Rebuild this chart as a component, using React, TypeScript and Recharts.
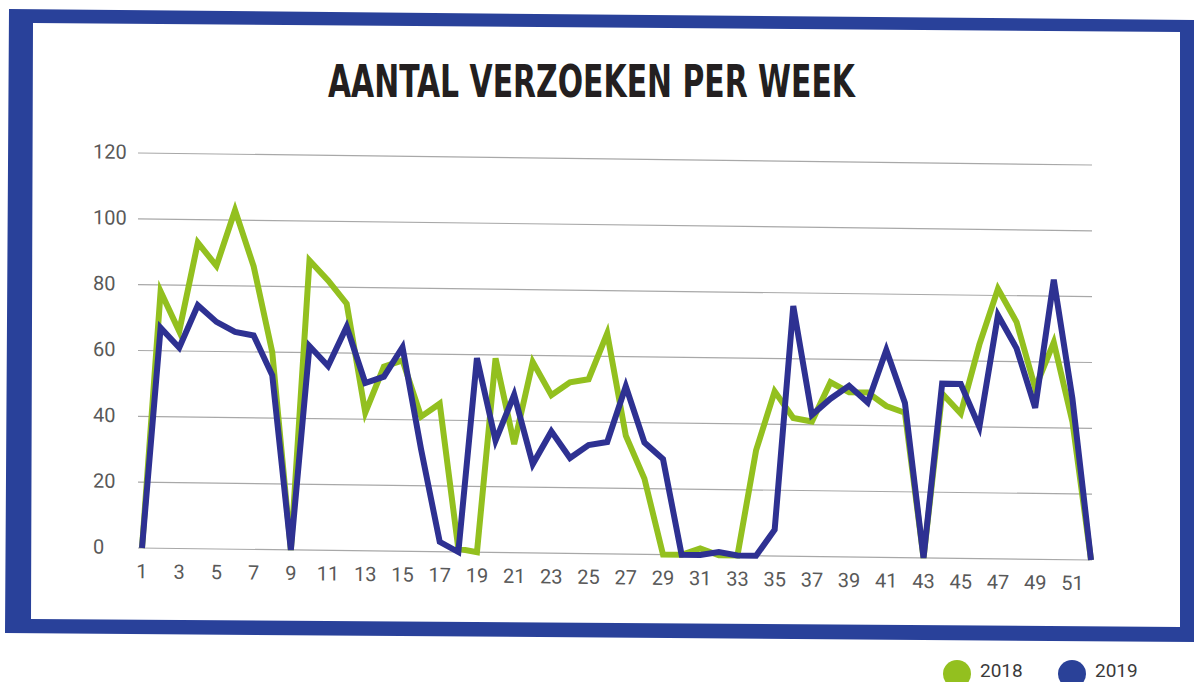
import React from 'react';
import { LineChart, Line, XAxis, YAxis, CartesianGrid } from 'recharts';

const weeks = [
  1, 2, 3, 4, 5, 6, 7, 8, 9, 10, 11, 12, 13, 14, 15, 16, 17, 18, 19, 20, 21, 22, 23, 24, 25, 26,
  27, 28, 29, 30, 31, 32, 33, 34, 35, 36, 37, 38, 39, 40, 41, 42, 43, 44, 45, 46, 47, 48, 49, 50, 51, 52,
];

const values2018 = [
  0, 78, 66, 93, 86, 103, 86, 60, 0, 88, 82, 75, 42, 56, 58, 41, 45, 1, 0, 59, 33, 58, 48, 52, 53, 67,
  36, 23, 0, 0, 2, 0, 0, 32, 50, 42, 41, 53, 50, 50, 46, 44, 0, 50, 44, 65, 82, 72, 52, 66, 42, 0,
];

const values2019 = [
  0, 67, 61, 74, 69, 66, 65, 53, 0, 62, 56, 68, 51, 53, 62, 31, 3, 0, 59, 34, 48, 27, 37, 29, 33, 34,
  51, 34, 29, 0, 0, 1, 0, 0, 8, 76, 43, 48, 52, 47, 63, 47, 0, 53, 53, 40, 74, 64, 46, 85, 49, 0,
];

const xTicks = [1, 3, 5, 7, 9, 11, 13, 15, 17, 19, 21, 23, 25, 27, 29, 31, 33, 35, 37, 39, 41, 43, 45, 47, 49, 51];
const yTicks = [0, 20, 40, 60, 80, 100, 120];
const seriesNames = ['2018', '2019'];
const titleText = 'AANTAL VERZOEKEN PER WEEK';

const GREEN = '#93c01f';
const BLUE_LINE = '#2e3192';
const FRAME = '#29419a';
const LEGEND_BLUE = '#2a4198';
const TICK_COLOR = '#595959';

const data = weeks.map((w, i) => ({ week: w, y2018: values2018[i], y2019: values2019[i] }));

function YTick(props: any) {
  const { y, payload } = props;
  return (
    <text x={93} y={y} dy={6} fill={TICK_COLOR} fontSize={20} fontFamily="Roboto, sans-serif" textAnchor="start">
      {payload.value}
    </text>
  );
}

export default function App() {
  const legendColors = [GREEN, LEGEND_BLUE];
  const legendX = [957, 1072];
  return (
    <div style={{ position: 'absolute', left: 0, top: 0, width: 1194, height: 682, background: '#fff', overflow: 'hidden' }}>
      <svg width={1194} height={682} style={{ position: 'absolute', left: 0, top: 0 }}>
        <path
          fillRule="evenodd"
          fill={FRAME}
          d="M9,9 L1194,20 L1194,642 L5,633 Z M33,23 L1180,32 L1180,627 L31,619 Z"
        />
        <text
          x={328}
          y={97}
          fontSize={44}
          fontWeight={700}
          fontFamily="'DejaVu Sans Condensed', 'Liberation Sans Narrow', sans-serif"
          fill="#231f20"
          textLength={527}
          lengthAdjust="spacingAndGlyphs"
        >
          {titleText}
        </text>
      </svg>
      <div
        style={{
          position: 'absolute',
          left: 0,
          top: 0,
          width: 1194,
          height: 640,
          transform: 'skewY(0.72deg)',
          transformOrigin: '138px 548px',
        }}
      >
        <LineChart width={1194} height={640} data={data} margin={{ top: 153, right: 102, bottom: 52, left: 93 }}>
          <CartesianGrid vertical={false} stroke="#a8a8a8" strokeWidth={1.2} />
          <XAxis
            dataKey="week"
            type="number"
            domain={[1, 52]}
            ticks={xTicks}
            padding={{ left: 4, right: 1 }}
            axisLine={false}
            tickLine={false}
            tickSize={0}
            tickMargin={16}
            height={40}
            interval={0}
            tick={{ fill: TICK_COLOR, fontSize: 20, fontFamily: 'Roboto, sans-serif' }}
          />
          <YAxis
            domain={[0, 120]}
            ticks={yTicks}
            axisLine={false}
            tickLine={false}
            width={45}
            interval={0}
            tick={<YTick />}
          />
          <Line
            type="linear"
            dataKey="y2018"
            stroke={GREEN}
            strokeWidth={6}
            dot={false}
            activeDot={false}
            isAnimationActive={false}
          />
          <Line
            type="linear"
            dataKey="y2019"
            stroke={BLUE_LINE}
            strokeWidth={6}
            dot={false}
            activeDot={false}
            isAnimationActive={false}
          />
        </LineChart>
      </div>
      <svg width={1194} height={682} style={{ position: 'absolute', left: 0, top: 0, pointerEvents: 'none' }}>
        {seriesNames.map((name, i) => (
          <g key={name}>
            <circle cx={legendX[i]} cy={674} r={14} fill={legendColors[i]} />
            <text x={legendX[i] + 23} y={677} fontSize={19} fontFamily="Roboto, sans-serif" fill="#3a3a3a">
              {name}
            </text>
          </g>
        ))}
      </svg>
    </div>
  );
}
